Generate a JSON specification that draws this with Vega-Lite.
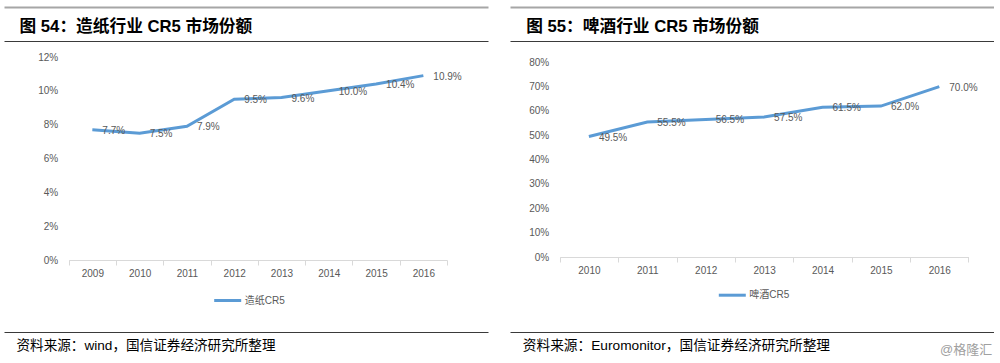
{
  "$schema": "https://vega.github.io/schema/vega-lite/v6.json",
  "background": "white",
  "padding": {"left": 4, "top": 7, "right": 0, "bottom": 0},
  "spacing": 22,
  "config": {"view": {"stroke": null}, "font": "Liberation Sans"},
  "resolve": {"scale": {"color": "independent"}, "legend": {"color": "independent"}},
  "datasets": {
    "paper": [
      {"year": "2009", "share": 0.077},
      {"year": "2010", "share": 0.075},
      {"year": "2011", "share": 0.079},
      {"year": "2012", "share": 0.095},
      {"year": "2013", "share": 0.096},
      {"year": "2014", "share": 0.100},
      {"year": "2015", "share": 0.104},
      {"year": "2016", "share": 0.109}
    ],
    "beer": [
      {"year": "2010", "share": 0.495},
      {"year": "2011", "share": 0.555},
      {"year": "2012", "share": 0.565},
      {"year": "2013", "share": 0.575},
      {"year": "2014", "share": 0.615},
      {"year": "2015", "share": 0.620},
      {"year": "2016", "share": 0.700}
    ]
  },
  "hconcat": [
    {
      "width": 484,
      "height": 325,
      "data": {"name": "paper"},
      "layer": [
        {
          "layer": [
            {
              "mark": {"type": "line", "strokeWidth": 3},
              "encoding": {
                "x": {"field": "year", "type": "ordinal", "title": null,
                  "scale": {"type": "band", "range": [64.7, 443], "paddingInner": 0, "paddingOuter": 0},
                  "axis": {"orient": "bottom", "offset": -72, "tickBand": "extent", "domainColor": "#d9d9d9", "tickColor": "#d9d9d9", "tickSize": 5, "labelPadding": 3, "labelAngle": 0, "labelColor": "#595959", "labelFontSize": 10, "labelFont": "Liberation Sans", "grid": false, "title": null}},
                "y": {"field": "share", "type": "quantitative", "title": null,
                  "scale": {"domain": [0, 0.12], "range": [253, 50], "nice": false},
                  "axis": {"orient": "left", "offset": -64.7, "values": [0, 0.02, 0.04, 0.06, 0.08, 0.10, 0.12], "format": ".0%", "domain": false, "ticks": false, "tickSize": 0, "labelPadding": 11, "grid": false, "labelColor": "#595959", "labelFontSize": 10, "labelFont": "Liberation Sans", "title": null}},
                "color": {"datum": "造纸CR5", "type": "nominal", "scale": {"range": ["#5B9BD5"]},
                  "legend": {"orient": "none", "legendX": 208.7, "legendY": 278.5, "title": null, "symbolType": "stroke", "symbolSize": 729, "symbolStrokeWidth": 3, "labelFontSize": 10, "labelColor": "#595959", "labelFont": "Liberation Sans, Noto Sans CJK SC", "labelOffset": 2, "padding": 0}}
              }
            },
            {
              "mark": {"type": "text", "align": "left", "baseline": "middle", "dx": 10, "dy": 1, "fontSize": 10, "color": "#595959", "font": "Liberation Sans"},
              "encoding": {
                "x": {"field": "year", "type": "ordinal", "title": null},
                "y": {"field": "share", "type": "quantitative", "title": null},
                "text": {"field": "share", "type": "quantitative", "format": ".1%"}
              }
            }
          ]
        },
        {
          "mark": {"type": "point", "opacity": 0, "size": 1},
          "encoding": {
            "x": {"datum": 0.5, "type": "quantitative", "scale": {"domain": [0, 1]},
              "axis": {"orient": "top", "offset": 0, "labels": false, "ticks": false, "grid": false, "domain": true, "domainColor": "#a6a6a6", "domainWidth": 2,
                "title": "图 54：造纸行业 CR5 市场份额", "titleX": 15, "titleY": 19.5, "titleAlign": "left", "titleBaseline": "middle", "titleAngle": 0, "titleFontSize": 16.7, "titleFontWeight": "bold", "titleColor": "#000000", "titleFont": "Liberation Sans, Noto Sans CJK SC"}}
          }
        },
        {
          "mark": {"type": "point", "opacity": 0, "size": 1},
          "encoding": {
            "x": {"datum": 0.5, "type": "quantitative", "scale": {"domain": [0, 1]},
              "axis": {"orient": "top", "offset": -34, "labels": false, "ticks": false, "grid": false, "domain": true, "domainColor": "#3a3a3a", "domainWidth": 1, "title": null}}
          }
        },
        {
          "mark": {"type": "point", "opacity": 0, "size": 1},
          "encoding": {
            "x": {"datum": 0.5, "type": "quantitative", "scale": {"domain": [0, 1]},
              "axis": {"orient": "bottom", "offset": 0, "labels": false, "ticks": false, "grid": false, "domain": true, "domainColor": "#3a3a3a", "domainWidth": 1,
                "title": "资料来源：wind，国信证券经济研究所整理", "titleX": 12, "titleY": 13.7, "titleAlign": "left", "titleBaseline": "middle", "titleAngle": 0, "titleFontSize": 13.6, "titleFontWeight": "normal", "titleColor": "#000000", "titleFont": "Liberation Sans, Noto Sans CJK SC"}}
          }
        }
      ],
      "resolve": {"scale": {"x": "independent", "y": "independent"}, "axis": {"x": "independent", "y": "independent"}}
    },
    {
      "width": 484,
      "height": 325,
      "data": {"name": "beer"},
      "layer": [
        {
          "layer": [
            {
              "mark": {"type": "line", "strokeWidth": 3},
              "encoding": {
                "x": {"field": "year", "type": "ordinal", "title": "@格隆汇",
                  "scale": {"type": "band", "range": [49.7, 458.5], "paddingInner": 0, "paddingOuter": 0},
                  "axis": {"orient": "bottom", "offset": -75, "tickBand": "extent", "domainColor": "#d9d9d9", "tickColor": "#d9d9d9", "tickSize": 5, "labelPadding": 3, "labelAngle": 0, "labelColor": "#595959", "labelFontSize": 10, "labelFont": "Liberation Sans", "grid": false,
                    "title": "@格隆汇", "titleX": 481.7, "titleY": 92, "titleAlign": "right", "titleBaseline": "middle", "titleAngle": 0, "titleFontSize": 13, "titleFontWeight": "normal", "titleColor": "#a0a0a0", "titleFont": "Liberation Sans, Noto Sans CJK SC"}},
                "y": {"field": "share", "type": "quantitative", "title": null,
                  "scale": {"domain": [0, 0.8], "range": [250, 55.3], "nice": false},
                  "axis": {"orient": "left", "offset": -49.7, "values": [0, 0.1, 0.2, 0.3, 0.4, 0.5, 0.6, 0.7, 0.8], "format": ".0%", "domain": false, "ticks": false, "tickSize": 0, "labelPadding": 11, "grid": false, "labelColor": "#595959", "labelFontSize": 10, "labelFont": "Liberation Sans", "title": null}},
                "color": {"datum": "啤酒CR5", "type": "nominal", "scale": {"range": ["#5B9BD5"]},
                  "legend": {"orient": "none", "legendX": 207.3, "legendY": 273.2, "title": null, "symbolType": "stroke", "symbolSize": 729, "symbolStrokeWidth": 3, "labelFontSize": 10, "labelColor": "#595959", "labelFont": "Liberation Sans, Noto Sans CJK SC", "labelOffset": 2, "padding": 0}}
              }
            },
            {
              "mark": {"type": "text", "align": "left", "baseline": "middle", "dx": 10, "dy": 1, "fontSize": 10, "color": "#595959", "font": "Liberation Sans"},
              "encoding": {
                "x": {"field": "year", "type": "ordinal", "title": "@格隆汇"},
                "y": {"field": "share", "type": "quantitative", "title": null},
                "text": {"field": "share", "type": "quantitative", "format": ".1%"}
              }
            }
          ]
        },
        {
          "mark": {"type": "point", "opacity": 0, "size": 1},
          "encoding": {
            "x": {"datum": 0.5, "type": "quantitative", "scale": {"domain": [0, 1]},
              "axis": {"orient": "top", "offset": 0, "labels": false, "ticks": false, "grid": false, "domain": true, "domainColor": "#a6a6a6", "domainWidth": 2,
                "title": "图 55：啤酒行业 CR5 市场份额", "titleX": 15.7, "titleY": 19.5, "titleAlign": "left", "titleBaseline": "middle", "titleAngle": 0, "titleFontSize": 16.7, "titleFontWeight": "bold", "titleColor": "#000000", "titleFont": "Liberation Sans, Noto Sans CJK SC"}}
          }
        },
        {
          "mark": {"type": "point", "opacity": 0, "size": 1},
          "encoding": {
            "x": {"datum": 0.5, "type": "quantitative", "scale": {"domain": [0, 1]},
              "axis": {"orient": "top", "offset": -34, "labels": false, "ticks": false, "grid": false, "domain": true, "domainColor": "#3a3a3a", "domainWidth": 1, "title": null}}
          }
        },
        {
          "mark": {"type": "point", "opacity": 0, "size": 1},
          "encoding": {
            "x": {"datum": 0.5, "type": "quantitative", "scale": {"domain": [0, 1]},
              "axis": {"orient": "bottom", "offset": 0, "labels": false, "ticks": false, "grid": false, "domain": true, "domainColor": "#3a3a3a", "domainWidth": 1,
                "title": "资料来源：Euromonitor，国信证券经济研究所整理", "titleX": 12.3, "titleY": 13.7, "titleAlign": "left", "titleBaseline": "middle", "titleAngle": 0, "titleFontSize": 13.7, "titleFontWeight": "normal", "titleColor": "#000000", "titleFont": "Liberation Sans, Noto Sans CJK SC"}}
          }
        }
      ],
      "resolve": {"scale": {"x": "independent", "y": "independent"}, "axis": {"x": "independent", "y": "independent"}}
    }
  ]
}
